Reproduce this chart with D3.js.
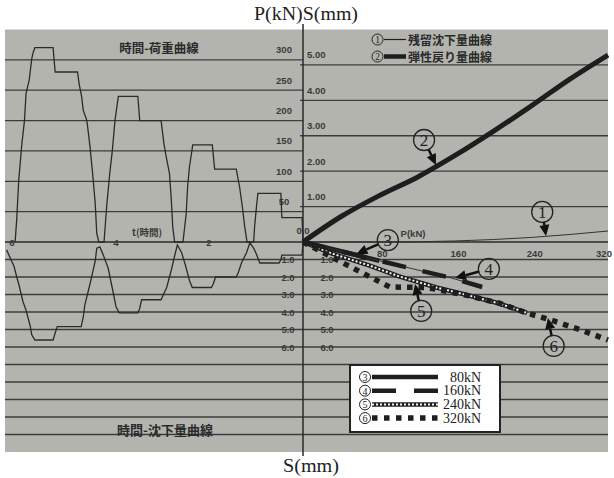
<!DOCTYPE html>
<html><head><meta charset="utf-8">
<script src="https://cdn.jsdelivr.net/npm/d3@7"></script>
<style>
html,body{margin:0;padding:0;background:#fff;}
svg{display:block;}
</style></head><body>
<svg id="chart" width="614" height="478"></svg>
<script>
// Time–load record of the cyclic loading test (t in hours, P in kN)
const loadTime = [0,0.02,0.45,0.47,0.96,0.99,1.03,1.05,1.19,1.24,1.29,1.35,1.42,1.88,1.93,2.35,2.42,2.46,2.49,2.56,2.74,2.78,2.81,2.85,2.92,2.97,3.03,3.49,3.53,3.95,4.02,4.07,4.12,4.18,4.23,4.33,4.37,4.40,4.45,4.50,4.53,4.56,4.63,4.66,4.71,4.74,5.17,5.21,5.56,5.59,5.62,5.67,5.73,5.76,5.81,5.87,5.91,5.94];
const loadValue = [0,40,40,80,80,58,25,0,0,25,58,91,120,120,160,160,124,91,47,0,0,25,69,113,140,162,200,200,240,240,200,151,113,58,0,0,14,64,113,157,179,200,217,239,261,280,280,320,320,313,302,266,245,200,162,102,36,0];

// Time–settlement record (t in hours, S in mm)
const settleTime = [0,0.02,0.45,0.47,0.51,0.92,0.99,1.05,1.13,1.20,1.31,1.37,1.42,1.86,1.91,1.95,2.36,2.42,2.51,2.59,2.68,2.74,2.81,2.91,2.98,3.03,3.45,3.49,3.53,3.93,4.00,4.06,4.15,4.25,4.31,4.37,4.40,4.50,4.60,4.63,4.67,5.13,5.17,5.21,5.56,5.62,5.65,5.73,5.79,5.87,5.90,5.96,6.10];
const settleValue = [0,0.75,0.75,1.0,1.2,1.2,0.7,0.35,0.05,0.6,1.2,1.7,2.0,2.0,2.4,2.6,2.6,2.2,1.3,0.6,0.17,0.8,1.6,2.6,3.0,3.3,3.3,3.8,4.05,4.05,3.7,2.8,1.5,0.7,0.28,0.35,1.1,2.4,3.6,4.3,4.84,4.84,5.2,5.6,5.6,5.3,4.8,3.9,3.4,2.4,2.1,1.4,0.45];

// ① residual settlement and ② elastic rebound against load
const residualLoad = [0,80,160,240,320];
const residualSettle = [0,0,0.03,0.13,0.31];
const elasticLoad = [0,40,80,120,160,200,240,280,320];
const elasticSettle = [0,0.72,1.31,1.83,2.45,3.13,3.85,4.6,5.28];

// ③–⑥ load–settlement curves of each loading cycle
const cycle80Load = [0,40,80];
const cycle80Settle = [0,0.53,1.07];
const cycle160Load = [0,40,80,112,156,188];
const cycle160Settle = [0,0.53,1.07,1.49,2.06,2.57];
const cycle240Load = [0,30,70,100,140,170,205,235];
const cycle240Settle = [0,0.65,1.35,1.95,2.6,3.0,3.5,4.05];
const cycle320Load = [0,46,91,128,140,172,206,235,260,290,320];
const cycle320Settle = [0,1.31,2.57,2.6,2.7,3.05,3.5,4.06,4.46,5.0,5.6];

// Tick values and labels
const loadTicks = [50,100,150,200,250,300];
const upperSettleTicks = [1,2,3,4,5];
const lowerSettleTicks = [1,2,3,4,5,6];
const lowerGrid = [1,2,3,4,5,6,7,8,9,10,11];
const timeTicks = [2,4,6];
const pTicks = [80,160,240,320];
const cycleLabels = ["80kN","160kN","240kN","320kN"];
const cycleNumbers = ["3","4","5","6"];

const zip = (a,b) => a.map((v,i) => [v,b[i]]);

const L = 5, R = 608, T = 29.5, B = 452, AX = 303, Y0 = 242;
const numFont = "'Liberation Sans', Arial, sans-serif";
const jpFont = "'Noto Sans CJK JP', 'Noto Sans', sans-serif";
const serif = "'Liberation Serif', 'DejaVu Serif', serif";
const ink = "#1e1e1e";

// left half: time runs leftwards from the origin
const xT = d3.scaleLinear().domain([0,2,4,6,6.13]).range([AX,209,116,12,L]);
const yP = d3.scaleLinear().domain([0,350]).range([Y0,T]);
// right half: load runs rightwards
const xP = d3.scaleLinear().domain([0,320]).range([AX,R]);
const ySu = d3.scaleLinear().domain([0,6]).range([Y0,T]);
const ySd = d3.scaleLinear().domain([0,12]).range([Y0,B]);

const svg = d3.select("#chart");

svg.append("rect").attr("x",L).attr("y",T).attr("width",R-L).attr("height",B-T)
  .attr("fill","#b4b4af");

const grid = svg.append("g").attr("stroke","#3c3c3c").attr("stroke-width",1.3);
grid.selectAll(".gl").data(loadTicks).join("line")
  .attr("x1",L).attr("x2",AX).attr("y1",d=>yP(d)).attr("y2",d=>yP(d));
grid.selectAll(".gr").data(upperSettleTicks).join("line")
  .attr("x1",AX-3).attr("x2",R).attr("y1",d=>ySu(d)).attr("y2",d=>ySu(d));
grid.selectAll(".gd").data(lowerGrid).join("line")
  .attr("x1",L).attr("x2",R).attr("y1",d=>ySd(d)).attr("y2",d=>ySd(d));

// axes
svg.append("line").attr("x1",L).attr("x2",R).attr("y1",Y0).attr("y2",Y0)
  .attr("stroke","#2a2a2a").attr("stroke-width",1.5);
svg.append("line").attr("x1",AX).attr("x2",AX).attr("y1",24).attr("y2",456)
  .attr("stroke","#2a2a2a").attr("stroke-width",1.5);

// tick labels
const lab = svg.append("g").attr("font-family",numFont).attr("font-size",9.5)
  .attr("font-weight","bold").attr("fill","#3a3a3a");
lab.selectAll(".lt").data(loadTicks).join("text")
  .attr("x",284).attr("y",d=>yP(d)-10).attr("text-anchor","middle")
  .attr("dominant-baseline","central").text(d=>d);
lab.selectAll(".ut").data(upperSettleTicks).join("text")
  .attr("x",307).attr("y",d=>ySu(d)-10)
  .attr("dominant-baseline","central").text(d=>d.toFixed(2));
lab.selectAll(".dl").data(lowerSettleTicks).join("text")
  .attr("x",288).attr("y",d=>ySd(d)).attr("text-anchor","middle")
  .attr("dominant-baseline","central").text(d=>d.toFixed(1));
lab.selectAll(".dr").data(lowerSettleTicks).join("text")
  .attr("x",327).attr("y",d=>ySd(d)).attr("text-anchor","middle")
  .attr("dominant-baseline","central").text(d=>d.toFixed(1));
lab.selectAll(".tt").data(timeTicks).join("text")
  .attr("x",d=>xT(d)).attr("y",Y0).attr("text-anchor","middle")
  .attr("dominant-baseline","central").text(d=>d);
lab.selectAll(".pt").data(pTicks).join("text")
  .attr("x",d=>Math.min(xP(d)+3, 604)).attr("y",Y0+11).attr("text-anchor","middle")
  .attr("dominant-baseline","central").text(d=>d);
lab.append("text").attr("x",AX).attr("y",Y0-12).attr("text-anchor","middle")
  .attr("dominant-baseline","central").text("0.0");
lab.append("text").attr("x",413).attr("y",Y0-9).attr("text-anchor","middle")
  .attr("dominant-baseline","central").text("P(kN)");
lab.append("text").attr("x",147).attr("y",Y0-10).attr("text-anchor","middle")
  .attr("dominant-baseline","central").attr("font-family",jpFont).attr("font-size",9.5)
  .text("t(時間)");

// panel titles
svg.append("text").attr("x",159).attr("y",47).attr("text-anchor","middle")
  .attr("dominant-baseline","central").attr("font-family",jpFont)
  .attr("font-weight","bold").attr("font-size",12.5).attr("fill","#2a2a2a")
  .text("時間-荷重曲線");
svg.append("text").attr("x",165).attr("y",429).attr("text-anchor","middle")
  .attr("dominant-baseline","central").attr("font-family",jpFont)
  .attr("font-weight","bold").attr("font-size",13).attr("fill","#2a2a2a")
  .text("時間-沈下量曲線");

// axis titles
svg.append("text").attr("x",306).attr("y",20).attr("text-anchor","middle")
  .attr("font-family",serif).attr("font-size",18).attr("fill","#222")
  .attr("textLength",104).attr("lengthAdjust","spacingAndGlyphs").text("P(kN)S(mm)");
svg.append("text").attr("x",311).attr("y",472).attr("text-anchor","middle")
  .attr("font-family",serif).attr("font-size",18).attr("fill","#222")
  .attr("textLength",56).attr("lengthAdjust","spacingAndGlyphs").text("S(mm)");

// time curves
const tLoad = d3.line().x(d=>xT(d[0])).y(d=>yP(d[1]));
const tSettle = d3.line().x(d=>xT(d[0])).y(d=>ySd(d[1]));
svg.append("path").attr("d",tLoad(zip(loadTime,loadValue)))
  .attr("fill","none").attr("stroke","#2b2b2b").attr("stroke-width",1.3);
svg.append("path").attr("d",tSettle(zip(settleTime,settleValue)))
  .attr("fill","none").attr("stroke","#2b2b2b").attr("stroke-width",1.3);

// load curves, upper right
const up = d3.line().x(d=>xP(d[0])).y(d=>ySu(d[1])).curve(d3.curveMonotoneX);
const dn = d3.line().x(d=>xP(d[0])).y(d=>ySd(d[1]));
svg.append("path").attr("d",up(zip(residualLoad,residualSettle)))
  .attr("fill","none").attr("stroke","#333").attr("stroke-width",1);
svg.append("path").attr("d",up(zip(elasticLoad,elasticSettle)))
  .attr("fill","none").attr("stroke",ink).attr("stroke-width",5);

// styles for the four cycle curves
function drawCycle(g, d, k, lineGen) {
  const p = () => g.append("path").attr("d",lineGen(d)).attr("fill","none");
  if (k === 0) {
    p().attr("stroke",ink).attr("stroke-width",4.5);
  } else if (k === 1) {
    p().attr("stroke","#333").attr("stroke-width",1);
    p().attr("stroke",ink).attr("stroke-width",4.5).attr("stroke-dasharray","24 17");
  } else if (k === 2) {
    p().attr("stroke",ink).attr("stroke-width",4.5);
    p().attr("stroke","#f4f4f4").attr("stroke-width",2).attr("stroke-dasharray","2 2");
  } else {
    p().attr("stroke",ink).attr("stroke-width",5.5).attr("stroke-dasharray","5.5 6");
  }
}
const cyc = svg.append("g");
drawCycle(cyc, zip(cycle240Load,cycle240Settle), 2, dn);
drawCycle(cyc, zip(cycle320Load,cycle320Settle), 3, dn);
drawCycle(cyc, zip(cycle80Load,cycle80Settle), 0, dn);
drawCycle(cyc, zip(cycle160Load,cycle160Settle), 1, dn);

// circled number
function circled(g, cx, cy, r, digit, fs, sw) {
  g.append("circle").attr("cx",cx).attr("cy",cy).attr("r",r)
    .attr("fill","none").attr("stroke","#222").attr("stroke-width",sw);
  g.append("text").attr("x",cx).attr("y",cy+0.5).attr("text-anchor","middle")
    .attr("dominant-baseline","central").attr("font-family",serif)
    .attr("font-size",fs).attr("fill","#222").text(digit);
}

// annotation markers with arrows
function arrow(g, x1, y1, x2, y2) {
  const a = Math.atan2(y2-y1, x2-x1), hl = 11, hw = 5;
  const bx = x2 - hl*Math.cos(a), by = y2 - hl*Math.sin(a);
  g.append("line").attr("x1",x1).attr("y1",y1).attr("x2",bx).attr("y2",by)
    .attr("stroke","#111").attr("stroke-width",2.5);
  const px = -Math.sin(a)*hw, py = Math.cos(a)*hw;
  g.append("path").attr("d",`M${x2},${y2}L${bx+px},${by+py}L${bx-px},${by-py}Z`)
    .attr("fill","#111");
}
const notes = [
  {digit:"1", ys:ySu, cP:251, cS:0.85, tP:255, tS:0.17},
  {digit:"2", ys:ySu, cP:127, cS:2.88, tP:139.6, tS:2.17},
  {digit:"3", ys:ySd, cP:89, cS:-0.11, tP:56, tS:0.68},
  {digit:"4", ys:ySd, cP:195, cS:1.54, tP:159.5, tS:2.06},
  {digit:"5", ys:ySd, cP:124, cS:3.94, tP:117.5, tS:2.4},
  {digit:"6", ys:ySd, cP:263, cS:5.94, tP:257, tS:4.34}
];
const ann = svg.append("g");
notes.forEach(n => {
  const cx = xP(n.cP), cy = n.ys(n.cS), tx = xP(n.tP), ty = n.ys(n.tS);
  const a = Math.atan2(ty-cy, tx-cx);
  arrow(ann, cx + 10*Math.cos(a), cy + 10*Math.sin(a), tx, ty);
  circled(ann, cx, cy, 10.5, n.digit, 17, 1.3);
});

// legend for ① and ②
const lg1 = svg.append("g").attr("font-family",jpFont);
[["1","残留沈下量曲線",1.2],["2","弾性戻り量曲線",4.5]].forEach((r,i) => {
  const y = 39.5 + i*17;
  circled(lg1, 377.5, y, 5.5, r[0], 9.5, 1);
  lg1.append("line").attr("x1",384).attr("x2",406).attr("y1",y).attr("y2",y)
    .attr("stroke",ink).attr("stroke-width",r[2]);
  lg1.append("text").attr("x",408).attr("y",y).attr("dominant-baseline","central")
    .attr("font-size",12).attr("font-weight","bold").attr("fill","#2a2a2a").text(r[1]);
});

// legend for the loading cycles
const lg2 = svg.append("g");
lg2.append("rect").attr("x",350).attr("y",365).attr("width",150).attr("height",67)
  .attr("fill","#fff").attr("stroke","#222").attr("stroke-width",2);
cycleLabels.forEach((t,i) => {
  const y = 377 + i*13.7;
  circled(lg2, 365, y, 5.5, cycleNumbers[i], 10, 1);
  const seg = d3.line()([[372,y],[438,y]]);
  const g = lg2.append("g");
  if (i === 0) g.append("path").attr("d",seg).attr("stroke",ink).attr("stroke-width",4.5);
  if (i === 1) g.append("path").attr("d",seg).attr("stroke",ink).attr("stroke-width",4.5)
    .attr("stroke-dasharray","24 18");
  if (i === 2) {
    g.append("path").attr("d",seg).attr("stroke",ink).attr("stroke-width",4.5);
    g.append("path").attr("d",seg).attr("stroke","#f4f4f4").attr("stroke-width",2)
      .attr("stroke-dasharray","2 2");
  }
  if (i === 3) g.append("path").attr("d",seg).attr("stroke",ink).attr("stroke-width",5.5)
    .attr("stroke-dasharray","5.5 6.5");
  lg2.append("text").attr("x",481).attr("y",y).attr("text-anchor","end")
    .attr("dominant-baseline","central").attr("font-family",serif)
    .attr("font-size",14).attr("fill","#222").text(t);
});
</script>
</body></html>
